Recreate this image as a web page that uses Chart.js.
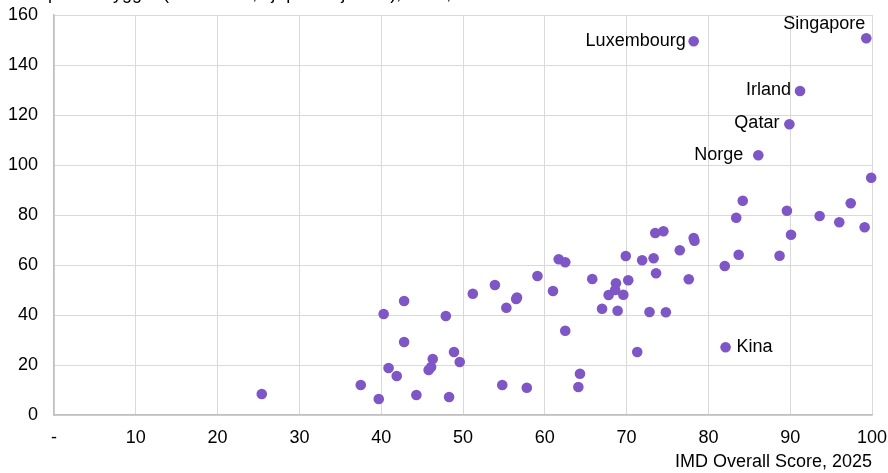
<!DOCTYPE html>
<html>
<head>
<meta charset="utf-8">
<script src="https://cdn.jsdelivr.net/npm/chart.js@4.4.1/dist/chart.umd.min.js"></script>
<style>
  html, body { margin: 0; padding: 0; background: #fff; }
  #wrap { width: 888px; height: 473px; position: relative; }
</style>
</head>
<body>
<div id="wrap"><canvas id="scatter"></canvas></div>
<script>
const scores = [25.4, 37.5, 39.7, 40.3, 40.9, 41.9, 42.8, 42.8, 44.3, 45.8, 46.1, 46.3, 47.9, 48.3, 48.9, 49.6,
    51.2, 53.9, 54.8, 55.3, 56.5, 56.6, 57.8, 59.1, 61.0, 61.7, 62.5, 62.5, 64.1, 64.3, 65.8, 67.0, 67.8, 68.7,
    68.6, 68.9, 69.6, 69.9, 70.2, 71.3, 71.9, 72.8, 73.3, 73.5, 73.6, 74.5, 74.8, 76.5, 77.6, 78.2, 78.3,
    82.0, 82.1, 83.4, 83.7, 84.2, 88.7, 89.6, 90.1, 93.6, 96.0, 97.4, 99.1, 99.9,
    78.2, 99.3, 91.2, 89.9, 86.1];
const gdp = [8.4, 12, 6.4, 40.4, 18.8, 15.6, 45.6, 29.2, 8, 18, 19.2, 22.4, 39.6, 7.2, 25.2, 21.2,
    48.5, 52, 12, 42.9, 46.4, 47, 10.9, 55.6, 49.6, 62.3, 61.1, 33.7, 11.2, 16.5, 54.4, 42.5, 48, 52.7,
    50, 41.7, 48.1, 63.6, 53.9, 25.2, 61.9, 41.2, 62.7, 72.8, 56.7, 73.5, 41.1, 65.9, 54.3, 70.8, 69.7,
    59.6, 27.1, 78.9, 64.1, 85.7, 63.7, 81.7, 72.1, 79.6, 77.1, 84.7, 75.1, 94.9,
    149.5, 150.7, 129.6, 116.3, 103.9];
const names = ['', '', '', '', '', '', '', '', '', '', '', '', '', '', '', '',
    '', '', '', '', '', '', '', '', '', '', '', '', '', '', '', '', '', '',
    '', '', '', '', '', '', '', '', '', '', '', '', '', '', '', '', '',
    '', 'Kina', '', '', '', '', '', '', '', '', '', '', '',
    'Luxembourg', 'Singapore', 'Irland', 'Qatar', 'Norge'];
const xTicks = [0, 10, 20, 30, 40, 50, 60, 70, 80, 90, 100];
const yTicks = [0, 20, 40, 60, 80, 100, 120, 140, 160];

const points = scores.map((x, i) => ({ x: x, y: gdp[i] }));

// where each name goes relative to its dot: [dx, dy, align]
const labelPos = {
    'Luxembourg': [-8, 0, 'right'],
    'Singapore': [-1, -14, 'right'],
    'Irland': [-9, -1, 'right'],
    'Qatar': [-10, -1, 'right'],
    'Norge': [-15, 0, 'right'],
    'Kina': [11, 0, 'left']
};

const pointNames = {
    id: 'pointNames',
    afterDatasetsDraw(chart) {
        const c = chart.ctx;
        const meta = chart.getDatasetMeta(0);
        c.save();
        c.font = '18px "Liberation Sans", Arial, sans-serif';
        c.fillStyle = '#000';
        c.textBaseline = 'middle';
        names.forEach((n, i) => {
            if (!n) return;
            const p = meta.data[i];
            const pos = labelPos[n] || [8, 0, 'left'];
            c.textAlign = pos[2];
            c.fillText(n, p.x + pos[0], p.y + pos[1]);
        });
        // clipped heading above the plot
        c.textAlign = 'left';
        c.textBaseline = 'alphabetic';
        c.font = '18px "Liberation Sans", Arial, sans-serif';
        c.fillText('BNP per innbygger (1000 USD, kjøpekraftjustert), 2024, PPP', 6, -1);
        c.restore();
    }
};

Chart.defaults.font.family = '"Liberation Sans", Arial, sans-serif';
Chart.defaults.color = '#000';

new Chart(document.getElementById('scatter'), {
    type: 'scatter',
    data: {
        datasets: [{
            data: points,
            backgroundColor: '#7E56C6',
            borderWidth: 0,
            pointRadius: 5.3,
            pointHoverRadius: 5.3,
            clip: false
        }]
    },
    options: {
        responsive: true,
        maintainAspectRatio: false,
        animation: false,
        events: [],
        layout: { padding: { top: 15, right: 16, left: 0, bottom: 0 } },
        plugins: {
            legend: { display: false },
            tooltip: { enabled: false }
        },
        scales: {
            x: {
                type: 'linear',
                min: 0,
                max: 100,
                afterBuildTicks: (s) => { s.ticks = xTicks.map(v => ({ value: v })); },
                ticks: {
                    font: { size: 18 },
                    padding: 12,
                    maxRotation: 0,
                    callback: (v) => v === 0 ? '-' : v
                },
                grid: { color: '#d9d9d9', lineWidth: 1, drawTicks: false },
                border: { color: '#bfbfbf', width: 1.5 },
                title: {
                    display: true,
                    text: 'IMD Overall Score, 2025',
                    align: 'end',
                    font: { size: 18 },
                    padding: { top: 12, bottom: 0 }
                },
                afterFit: (s) => { s.height = 58; s.paddingLeft = 0; s.paddingRight = 0; }
            },
            y: {
                type: 'linear',
                min: 0,
                max: 160,
                afterBuildTicks: (s) => { s.ticks = yTicks.map(v => ({ value: v })); },
                ticks: { font: { size: 18 }, padding: 16 },
                grid: { color: '#d9d9d9', lineWidth: 1, drawTicks: false },
                border: { color: '#bfbfbf', width: 1.5 },
                afterFit: (s) => { s.width = 54; s.paddingTop = 0; s.paddingBottom = 0; }
            }
        }
    },
    plugins: [pointNames]
});
</script>
</body>
</html>
